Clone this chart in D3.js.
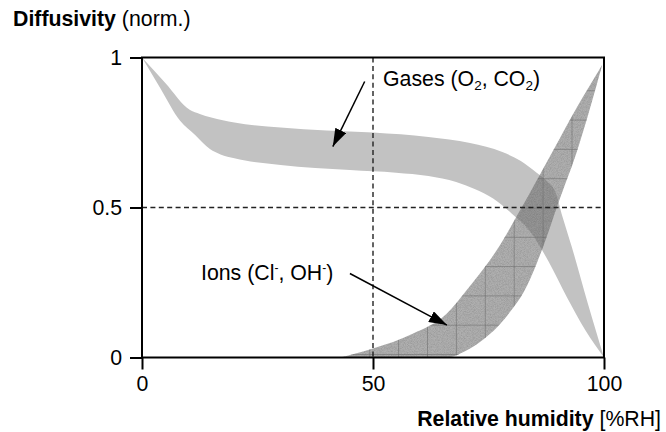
<!DOCTYPE html>
<html>
<head>
<meta charset="utf-8">
<script src="https://cdn.jsdelivr.net/npm/d3@7/dist/d3.min.js"></script>
<style>
  html, body { margin: 0; padding: 0; background: #fff; }
  svg { display: block; font-family: "Liberation Sans", Arial, sans-serif; }
</style>
</head>
<body>
<svg id="chart" width="666" height="432"></svg>
<script>
// ---- data ----
const xTicks = [0, 50, 100];
const xTickLabels = ["0", "50", "100"];
const yTicks = [0, 0.5, 1];
const yTickLabels = ["0", "0.5", "1"];

// Gases band (O2, CO2): upper and lower boundaries
const gasUpperX = [0, 5, 10.4, 12.5, 15, 20, 30, 40, 50, 62, 71, 78, 82, 85.5, 87.5, 89.5, 91, 93, 96.5, 100];
const gasUpperY = [1, 0.916, 0.825, 0.812, 0.80, 0.783, 0.767, 0.757, 0.75, 0.735, 0.715, 0.685, 0.655, 0.615, 0.59, 0.55, 0.47, 0.37, 0.18, 0];
const gasLowerX = [0, 4, 8.2, 11.5, 14.7, 17, 20, 30, 45, 55, 62, 68, 72, 76, 80, 84, 88, 92, 96, 100];
const gasLowerY = [1, 0.897, 0.79, 0.742, 0.695, 0.677, 0.664, 0.642, 0.625, 0.616, 0.605, 0.585, 0.562, 0.53, 0.48, 0.42, 0.32, 0.2, 0.09, 0];

// Ions band (Cl-, OH-): upper and lower boundaries
const ionUpperX = [42.9, 50, 58.7, 66, 70.3, 76.8, 82, 89, 94, 99.6];
const ionUpperY = [0, 0.03, 0.08, 0.147, 0.225, 0.358, 0.495, 0.69, 0.83, 0.975];
const ionLowerX = [66, 67.5, 69, 71, 74, 76.8, 80.3, 82.5, 86.6, 90, 94.2, 99.6];
const ionLowerY = [0, 0.004, 0.014, 0.03, 0.062, 0.10, 0.165, 0.215, 0.36, 0.51, 0.69, 0.975];

// reference lines
const refX = 50;
const refY = 0.5;

// annotation arrows: start/end in data units
const gasArrow = { x1: 48.2, y1: 0.92, x2: 41.3, y2: 0.703 };
const ionArrow = { x1: 45.0, y1: 0.28, x2: 66.0, y2: 0.108 };

// ---- layout ----
const svg = d3.select("#chart");
const plot = { left: 142, right: 604, top: 57.5, bottom: 357.5 };
const x = d3.scaleLinear().domain([0, 100]).range([plot.left, plot.right]);
const y = d3.scaleLinear().domain([0, 1]).range([plot.bottom, plot.top]);

const defs = svg.append("defs");

// grain filter for ion band
const f = defs.append("filter").attr("id", "grain")
  .attr("x", "0").attr("y", "0").attr("width", "100%").attr("height", "100%");
f.append("feTurbulence").attr("type", "fractalNoise").attr("baseFrequency", "1.3")
  .attr("numOctaves", "1").attr("seed", "7").attr("result", "n");
f.append("feColorMatrix").attr("in", "n").attr("type", "matrix")
  .attr("values", "0 0 0 0 0  0 0 0 0 0  0 0 0 0 0  0.7 0 0 0 -0.25").attr("result", "d");
f.append("feComposite").attr("in", "d").attr("in2", "SourceAlpha").attr("operator", "in").attr("result", "dc");
const fm = f.append("feMerge");
fm.append("feMergeNode").attr("in", "SourceGraphic");
fm.append("feMergeNode").attr("in", "dc");

// grid pattern for ion band
const pat = defs.append("pattern").attr("id", "grid")
  .attr("patternUnits", "userSpaceOnUse")
  .attr("x", 427).attr("y", 207.5).attr("width", 28.9).attr("height", 29.3);
pat.append("line").attr("x1", 0.5).attr("x2", 0.5).attr("y1", 0).attr("y2", 29.3)
  .attr("stroke", "#6a6a6a").attr("stroke-width", 1).attr("stroke-opacity", 0.55);
pat.append("line").attr("x1", 0).attr("x2", 28.9).attr("y1", 0.5).attr("y2", 0.5)
  .attr("stroke", "#6a6a6a").attr("stroke-width", 1).attr("stroke-opacity", 0.55);

function bandPath(ux, uy, lx, ly) {
  const line = d3.line().x(d => x(d[0])).y(d => y(d[1])).curve(d3.curveMonotoneX);
  const up = ux.map((v, i) => [v, uy[i]]);
  const lo = lx.map((v, i) => [v, ly[i]]).reverse();
  const a = line(up);
  const b = line(lo);
  return a + "L" + b.slice(1) + "Z";
}

// gas band
svg.append("path")
  .attr("d", bandPath(gasUpperX, gasUpperY, gasLowerX, gasLowerY))
  .attr("fill", "#c2c2c2");

// ion band
const ionD = bandPath(ionUpperX, ionUpperY, ionLowerX, ionLowerY);
svg.append("path").attr("d", ionD)
  .attr("fill", "#6e6e6e").attr("fill-opacity", 0.56)
  .attr("filter", "url(#grain)");
svg.append("path").attr("d", ionD).attr("fill", "url(#grid)");

// dashed reference lines
svg.append("line")
  .attr("x1", x(refX)).attr("x2", x(refX)).attr("y1", y(1)).attr("y2", y(0))
  .attr("stroke", "#222").attr("stroke-width", 1.4).attr("stroke-dasharray", "5,3.4");
svg.append("line")
  .attr("x1", x(0)).attr("x2", x(100)).attr("y1", y(refY)).attr("y2", y(refY))
  .attr("stroke", "#222").attr("stroke-width", 1.4).attr("stroke-dasharray", "5,3.4");

// frame
svg.append("rect")
  .attr("x", x(0)).attr("y", y(1)).attr("width", x(100) - x(0)).attr("height", y(0) - y(1))
  .attr("fill", "none").attr("stroke", "#000").attr("stroke-width", 2);

// axes
const fontSize = 21.3;
const xAxis = d3.axisBottom(x).tickValues(xTicks).tickFormat((d, i) => xTickLabels[i])
  .tickSizeInner(12).tickSizeOuter(0).tickPadding(6);
const gx = svg.append("g").attr("transform", `translate(0,${plot.bottom})`).call(xAxis);
gx.select(".domain").remove();
gx.selectAll("line").attr("stroke", "#000").attr("stroke-width", 2);
gx.selectAll("text").attr("font-size", fontSize).attr("fill", "#000")
  .attr("font-family", "Liberation Sans, Arial, sans-serif");

const yAxis = d3.axisLeft(y).tickValues(yTicks).tickFormat((d, i) => yTickLabels[i])
  .tickSizeInner(12).tickSizeOuter(0).tickPadding(8);
const gy = svg.append("g").attr("transform", `translate(${plot.left},0)`).call(yAxis);
gy.select(".domain").remove();
gy.selectAll("line").attr("stroke", "#000").attr("stroke-width", 2);
gy.selectAll("text").attr("font-size", fontSize).attr("fill", "#000")
  .attr("font-family", "Liberation Sans, Arial, sans-serif");

// titles
const t1 = svg.append("text").attr("x", 13).attr("y", 26).attr("font-size", fontSize);
t1.append("tspan").attr("font-weight", "bold").text("Diffusivity");
t1.append("tspan").text(" (norm.)");

const t2 = svg.append("text").attr("x", 661).attr("y", 426).attr("font-size", fontSize)
  .attr("text-anchor", "end");
t2.append("tspan").attr("font-weight", "bold").text("Relative humidity");
t2.append("tspan").text(" [%RH]");

// annotation labels
const g1 = svg.append("text").attr("x", 383).attr("y", 86).attr("font-size", fontSize);
g1.append("tspan").text("Gases (O");
g1.append("tspan").attr("font-size", 13.5).attr("dy", 4).text("2");
g1.append("tspan").attr("dy", -4).text(", CO");
g1.append("tspan").attr("font-size", 13.5).attr("dy", 4).text("2");
g1.append("tspan").attr("dy", -4).text(")");

const g2 = svg.append("text").attr("x", 201).attr("y", 280).attr("font-size", fontSize);
g2.append("tspan").text("Ions (Cl");
g2.append("tspan").attr("font-size", 12).attr("dy", -8).text("-");
g2.append("tspan").attr("dy", 8).text(", OH");
g2.append("tspan").attr("font-size", 12).attr("dy", -8).text("-");
g2.append("tspan").attr("dy", 8).text(")");

// arrows
defs.append("marker").attr("id", "arrow")
  .attr("viewBox", "0 0 18 12").attr("refX", 18).attr("refY", 6)
  .attr("markerWidth", 18).attr("markerHeight", 12)
  .attr("markerUnits", "userSpaceOnUse").attr("orient", "auto")
  .append("path").attr("d", "M0,0 L18,6 L0,12 Z").attr("fill", "#000");

[gasArrow, ionArrow].forEach(a => {
  svg.append("line")
    .attr("x1", x(a.x1)).attr("y1", y(a.y1)).attr("x2", x(a.x2)).attr("y2", y(a.y2))
    .attr("stroke", "#000").attr("stroke-width", 1.5).attr("marker-end", "url(#arrow)");
});
</script>
</body>
</html>
